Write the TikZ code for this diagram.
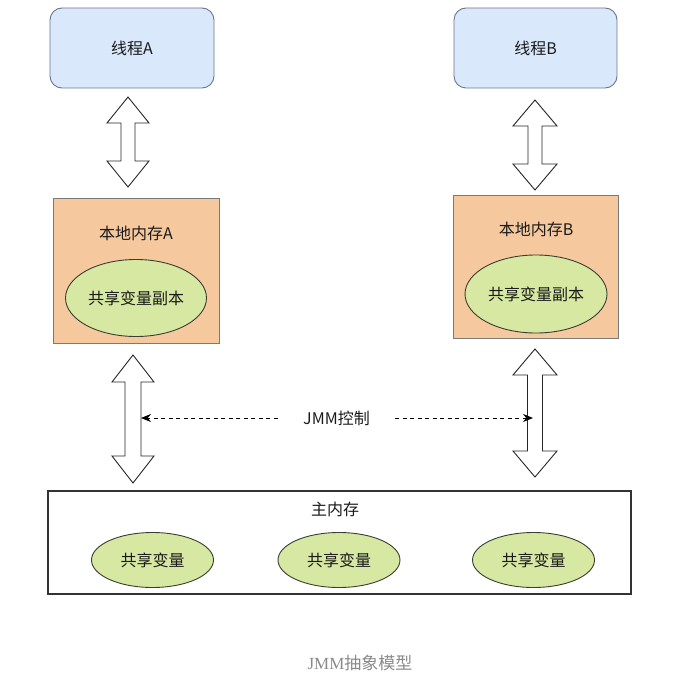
\documentclass[tikz,border=0pt]{standalone}
\usepackage{fontspec}
\setmainfont{Noto Sans CJK SC}
\newfontfamily\capserif{Liberation Serif}
\usetikzlibrary{arrows.meta,shapes.geometric}
\definecolor{thfill}{HTML}{DAE8FC}
\definecolor{thdraw}{HTML}{66788F}
\definecolor{locfill}{HTML}{F6C89E}
\definecolor{locdraw}{HTML}{7A7A7A}
\definecolor{varfill}{HTML}{D6E8A2}
\definecolor{vardraw}{HTML}{3A3D33}
\definecolor{txt}{HTML}{1A1A1A}
\definecolor{capgray}{HTML}{8A8A8A}
\newcommand\bdarrow[6]{%
  \draw[blockarrow] (#1,#2) -- (#1+#4,#2+#6) -- (#1+#5,#2+#6) -- (#1+#5,#3-#6)
    -- (#1+#4,#3-#6) -- (#1,#3) -- (#1-#4,#3-#6) -- (#1-#5,#3-#6)
    -- (#1-#5,#2+#6) -- (#1-#4,#2+#6) -- cycle;}
\begin{document}
\begin{tikzpicture}[x=1pt,y=-1pt,
  every node/.style={text=txt,font=\fontsize{16}{19}\selectfont},
  thread/.style={draw=thdraw,fill=thfill,rounded corners=12pt,line width=0.9pt},
  localmem/.style={draw=locdraw,fill=locfill,line width=0.9pt},
  mainmem/.style={draw=black!80,fill=white,line width=1.2pt},
  sharedvar/.style={ellipse,draw=vardraw,fill=varfill,line width=0.9pt,inner sep=0pt},
  blockarrow/.style={draw=black!85,fill=white,line width=0.9pt,line join=miter},
  ctrl/.style={dashed,dash pattern=on 4pt off 3.5pt,line width=1pt,-{Stealth[length=10pt,width=8pt]}}
]
\useasboundingbox (0,0) rectangle (681,695);

% threads
\node[thread,minimum width=164,minimum height=80] (thA) at (132,48) {线程A};
\node[thread,minimum width=163,minimum height=80] (thB) at (535.5,48) {线程B};

% local memories
\node[localmem,minimum width=166,minimum height=145] (locA) at (136,270.5) {};
\node (locAlbl) at (136,233) {本地内存A};
\node[sharedvar,minimum width=141,minimum height=77] (copyA) at (136,298) {共享变量副本};

\node[localmem,minimum width=165,minimum height=143] (locB) at (535.5,266.5) {};
\node (locBlbl) at (536,229) {本地内存B};
\node[sharedvar,minimum width=142,minimum height=78] (copyB) at (536,294) {共享变量副本};

% main memory
\node[mainmem,minimum width=583,minimum height=103] (mainm) at (339.5,542.5) {};
\node (mainlbl) at (335,509) {主内存};
\node[sharedvar,minimum width=122,minimum height=55] (var1) at (152.5,560) {共享变量};
\node[sharedvar,minimum width=122,minimum height=55] (var2) at (339,560) {共享变量};
\node[sharedvar,minimum width=122,minimum height=55] (var3) at (533.5,560) {共享变量};

% block arrows
\bdarrow{128}{97}{187}{21}{7}{26}
\bdarrow{535}{100}{190}{22}{7}{26}
\bdarrow{133}{355}{483}{21}{8}{27}
\bdarrow{535}{349}{477}{22}{7.5}{26}

% JMM control
\node[minimum width=117,inner sep=0pt] (jmm) at (336.5,418) {JMM控制};
\coordinate (tipA) at (141,418);
\coordinate (tipB) at (533,418);
\draw[ctrl] (jmm.west) -- (tipA);
\draw[ctrl] (jmm.east) -- (tipB);

% caption
\node[text=capgray,font=\fontsize{17}{20}\selectfont] (cap) at (360,663) {{\capserif JMM}抽象模型};
\end{tikzpicture}
\end{document}
